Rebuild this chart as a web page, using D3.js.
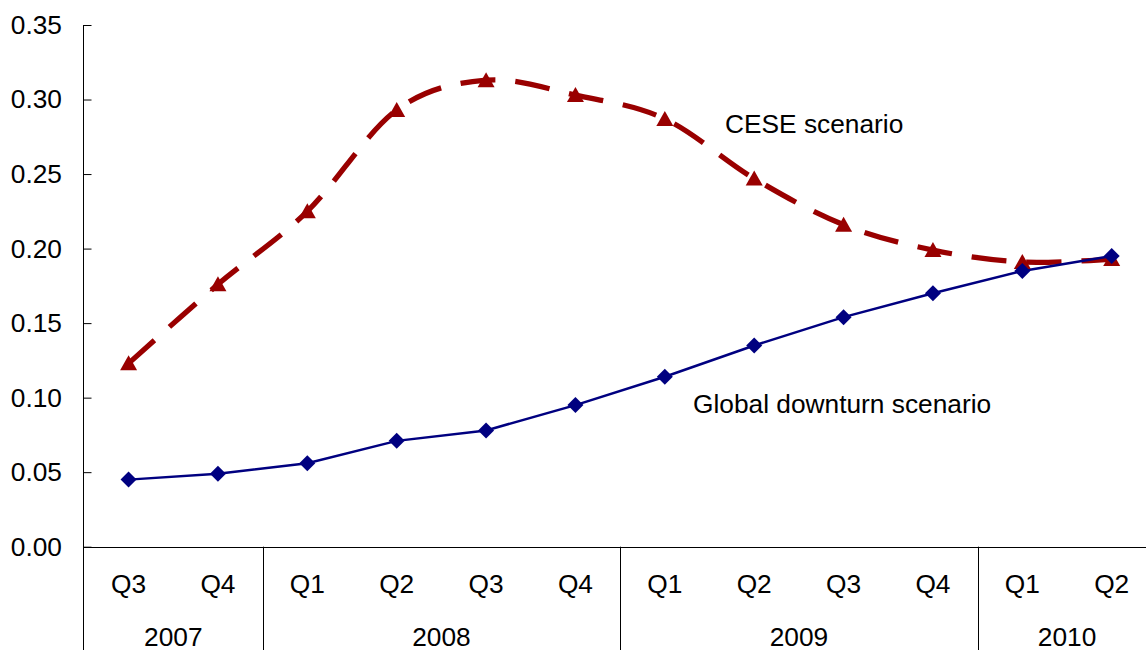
<!DOCTYPE html>
<html>
<head>
<meta charset="utf-8">
<script src="https://cdn.jsdelivr.net/npm/d3@7"></script>
<style>
  html, body { margin: 0; padding: 0; background: #fff; }
  svg { display: block; font-family: "Liberation Sans", Arial, sans-serif; }
</style>
</head>
<body>
<svg id="chart" width="1146" height="650"></svg>
<script>
// ---- data ----
const quarters = ["Q3", "Q4", "Q1", "Q2", "Q3", "Q4", "Q1", "Q2", "Q3", "Q4", "Q1", "Q2"];
const years = ["2007", "2007", "2008", "2008", "2008", "2008", "2009", "2009", "2009", "2009", "2010", "2010"];
const yearLabels = ["2007", "2008", "2009", "2010"];
const globalDownturn = [0.045, 0.049, 0.056, 0.071, 0.078, 0.095, 0.114, 0.135, 0.154, 0.170, 0.185, 0.195];
const ceseScenario = [0.123, 0.176, 0.225, 0.293, 0.313, 0.303, 0.287, 0.247, 0.216, 0.199, 0.191, 0.193];
const yTicks = [0, 0.05, 0.10, 0.15, 0.20, 0.25, 0.30, 0.35];
const seriesLabels = ["CESE scenario", "Global downturn scenario"];

(function () {
// ---- layout ----
const W = 1146, H = 650;
const pLeft = 83.9, pRight = 1156.4, pTop = 25, pBottom = 546.7;
const svg = d3.select("#chart");
const idx = d3.range(quarters.length);

const x = d3.scaleBand().domain(idx).range([pLeft, pRight]).padding(0);
const cx = i => x(i) + x.bandwidth() / 2;
const y = d3.scaleLinear().domain([0, 0.35]).range([pBottom, pTop]);

const FS = 26.3;
const axX = Math.round(pLeft) - 0.5;

// y axis
const yAxis = d3.axisLeft(y).tickValues(yTicks).tickFormat(d3.format(".2f"))
  .tickSizeInner(-8).tickSizeOuter(0).tickPadding(21.5);
const gy = svg.append("g").attr("transform", `translate(${axX},0)`).call(yAxis);
gy.select(".domain").remove();
gy.selectAll(".tick line").attr("stroke", "#000").attr("stroke-width", 1);
gy.selectAll(".tick text").attr("font-size", FS).attr("fill", "#000")
  .attr("font-family", "Liberation Sans, Arial, sans-serif");

// axis lines
svg.append("line").attr("x1", axX).attr("x2", axX)
  .attr("y1", y(0.35)).attr("y2", H).attr("stroke", "#000").attr("stroke-width", 1);
svg.append("line").attr("x1", axX).attr("x2", W)
  .attr("y1", Math.round(y(0)) + 0.5).attr("y2", Math.round(y(0)) + 0.5)
  .attr("stroke", "#000").attr("stroke-width", 1);

// year separators & labels
const groups = yearLabels.map(yr => {
  const ids = idx.filter(i => years[i] === yr);
  return { yr, start: x(ids[0]), end: x(ids[ids.length - 1]) + x.bandwidth() };
});
groups.slice(1).forEach(g => {
  svg.append("line").attr("x1", Math.round(g.start) + 0.5).attr("x2", Math.round(g.start) + 0.5)
    .attr("y1", y(0)).attr("y2", H).attr("stroke", "#000").attr("stroke-width", 1);
});
svg.append("g").selectAll("text").data(groups).join("text")
  .attr("x", g => (g.start + g.end) / 2).attr("y", 645.5)
  .attr("text-anchor", "middle").attr("font-size", FS).attr("fill", "#000")
  .text(g => g.yr);

// quarter labels
svg.append("g").selectAll("text").data(idx).join("text")
  .attr("x", i => cx(i)).attr("y", 593)
  .attr("text-anchor", "middle").attr("font-size", FS).attr("fill", "#000")
  .text(i => quarters[i]);

// CESE line (smoothed, dashed)
const red = "#990000", blue = "#000080";
svg.append("path")
  .datum(idx)
  .attr("d", d3.line().x(i => cx(i)).y(i => y(ceseScenario[i])).curve(d3.curveCardinal.tension(0)))
  .attr("fill", "none").attr("stroke", red).attr("stroke-width", 5.3)
  .attr("stroke-dasharray", "35,20");

// Global downturn line
svg.append("path")
  .datum(idx)
  .attr("d", d3.line().x(i => cx(i)).y(i => y(globalDownturn[i])))
  .attr("fill", "none").attr("stroke", blue).attr("stroke-width", 2.5);

// markers
svg.append("g").selectAll("path").data(idx).join("path")
  .attr("d", i => {
    const px = cx(i), py = y(ceseScenario[i]);
    return `M${px},${py - 8}L${px + 8.5},${py + 7}L${px - 8.5},${py + 7}Z`;
  })
  .attr("fill", red);
svg.append("g").selectAll("path").data(idx).join("path")
  .attr("d", i => {
    const px = cx(i), py = y(globalDownturn[i]);
    return `M${px},${py - 8}L${px + 8},${py}L${px},${py + 8}L${px - 8},${py}Z`;
  })
  .attr("fill", blue);

// series labels
svg.append("text").attr("x", 725).attr("y", 133).attr("font-size", FS).attr("fill", "#000")
  .text(seriesLabels[0]);
svg.append("text").attr("x", 693).attr("y", 413).attr("font-size", FS).attr("fill", "#000")
  .text(seriesLabels[1]);
})();
</script>
</body>
</html>
